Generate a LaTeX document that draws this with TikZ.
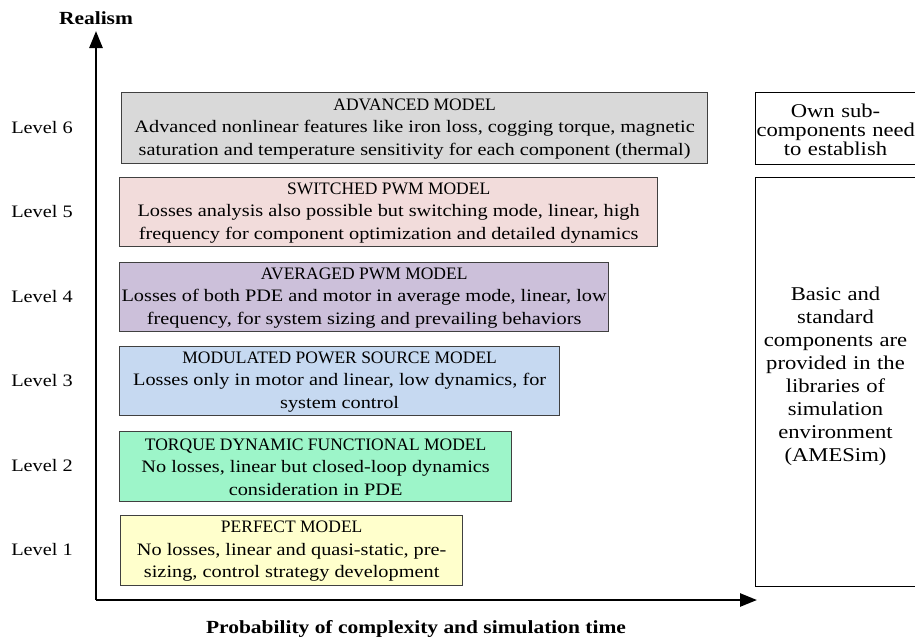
\documentclass[tikz,border=0pt]{standalone}
\usepackage{fontspec}
\setmainfont{Liberation Serif}[FakeStretch=1.16]
\newfontfamily\capsfont{Liberation Serif}[FakeStretch=1.0]
\usetikzlibrary{arrows.meta}
\definecolor{cgray}{HTML}{D9D9D9}
\definecolor{cpink}{HTML}{F2DCDB}
\definecolor{cpurple}{HTML}{CCC0DA}
\definecolor{cblue}{HTML}{C6D9F1}
\definecolor{cgreen}{HTML}{9DF5C9}
\definecolor{cyellow}{HTML}{FFFFCC}
\definecolor{boxln}{HTML}{404040}
\begin{document}
\begin{tikzpicture}[x=1pt,y=-1pt,
  font=\fontsize{17.5}{22.5}\selectfont,
  mbox/.style={draw=boxln, line width=1.3pt, inner sep=0pt, anchor=north west},
  mtext/.style={align=center, inner sep=0pt, anchor=center},
  rbox/.style={draw=black, line width=1pt, inner sep=0pt, anchor=north west, minimum width=162pt},
  rtext/.style={align=center, inner sep=0pt, text width=158pt, anchor=center},
  lvl/.style={anchor=center},
  axis/.style={line width=2.6pt, -{Triangle[length=17pt,width=13pt]}},
  axlabel/.style={font=\fontsize{18.5}{20}\selectfont\bfseries}]
\useasboundingbox (0,0) rectangle (915,641);
\clip (0,0) rectangle (915,641);
\fill[white] (0,0) rectangle (915,641);

\coordinate (origin) at (96,600);
\coordinate (ytip) at (96,31);
\coordinate (xtip) at (757,600);
\draw[axis] (origin) -- (ytip);
\draw[axis] (origin) -- (xtip);

\node[axlabel] (ylab) at (96,18) {Realism};
\node[axlabel] (xlab) at (416,629) {Probability of complexity and simulation time};

\node[mbox, fill=cgray, minimum width=586pt, minimum height=71pt] (m6) at (121,92) {};
\node[mtext] (t6) at ([yshift=-0.5pt]m6.center)
  {{\capsfont ADVANCED MODEL}\\Advanced nonlinear features like iron loss, cogging torque, magnetic\\saturation and temperature sensitivity for each component (thermal)};
\node[mbox, fill=cpink, minimum width=538pt, minimum height=69pt] (m5) at (119,177) {};
\node[mtext] (t5) at ([yshift=-0.5pt]m5.center)
  {{\capsfont SWITCHED PWM MODEL}\\Losses analysis also possible but switching mode, linear, high\\frequency for component optimization and detailed dynamics};
\node[mbox, fill=cpurple, minimum width=489pt, minimum height=69pt] (m4) at (119,262) {};
\node[mtext] (t4) at ([yshift=-0.5pt]m4.center)
  {{\capsfont AVERAGED PWM MODEL}\\Losses of both PDE and motor in average mode, linear, low\\frequency, for system sizing and prevailing behaviors};
\node[mbox, fill=cblue, minimum width=440pt, minimum height=69pt] (m3) at (119,346) {};
\node[mtext] (t3) at ([yshift=-0.5pt]m3.center)
  {{\capsfont MODULATED POWER SOURCE MODEL}\\Losses only in motor and linear, low dynamics, for\\system control};
\node[mbox, fill=cgreen, minimum width=392pt, minimum height=70pt] (m2) at (119,431) {};
\node[mtext] (t2) at ([yshift=-0.5pt]m2.center)
  {{\capsfont TORQUE DYNAMIC FUNCTIONAL MODEL}\\No losses, linear but closed-loop dynamics\\consideration in PDE};
\node[mbox, fill=cyellow, minimum width=342pt, minimum height=70pt] (m1) at (120,515) {};
\node[mtext] (t1) at ([yshift=-0.5pt]m1.center)
  {{\capsfont PERFECT MODEL}\\No losses, linear and quasi-static, pre-\\sizing, control strategy development};

\node[lvl] (l6) at (42,128) {Level 6};
\node[lvl] (l5) at (42,212) {Level 5};
\node[lvl] (l4) at (42,297) {Level 4};
\node[lvl] (l3) at (42,381) {Level 3};
\node[lvl] (l2) at (42,466) {Level 2};
\node[lvl] (l1) at (42,550) {Level 1};

\node[rbox, minimum height=72pt] (r1) at (755,92) {};
\node[rtext, font=\fontsize{19.5}{19}\selectfont] (rt1) at ([xshift=-1pt,yshift=-1pt]r1.center)
  {Own sub-\\\makebox[158pt][l]{components need}\\to establish};
\node[rbox, minimum height=409pt] (r2) at (755,177) {};
\node[rtext, font=\fontsize{19.5}{23}\selectfont] (rt2) at ([xshift=-1pt,yshift=6pt]r2.center)
  {Basic and\\standard\\components are\\provided in the\\libraries of\\simulation\\environment\\(AMESim)};
\end{tikzpicture}
\end{document}
